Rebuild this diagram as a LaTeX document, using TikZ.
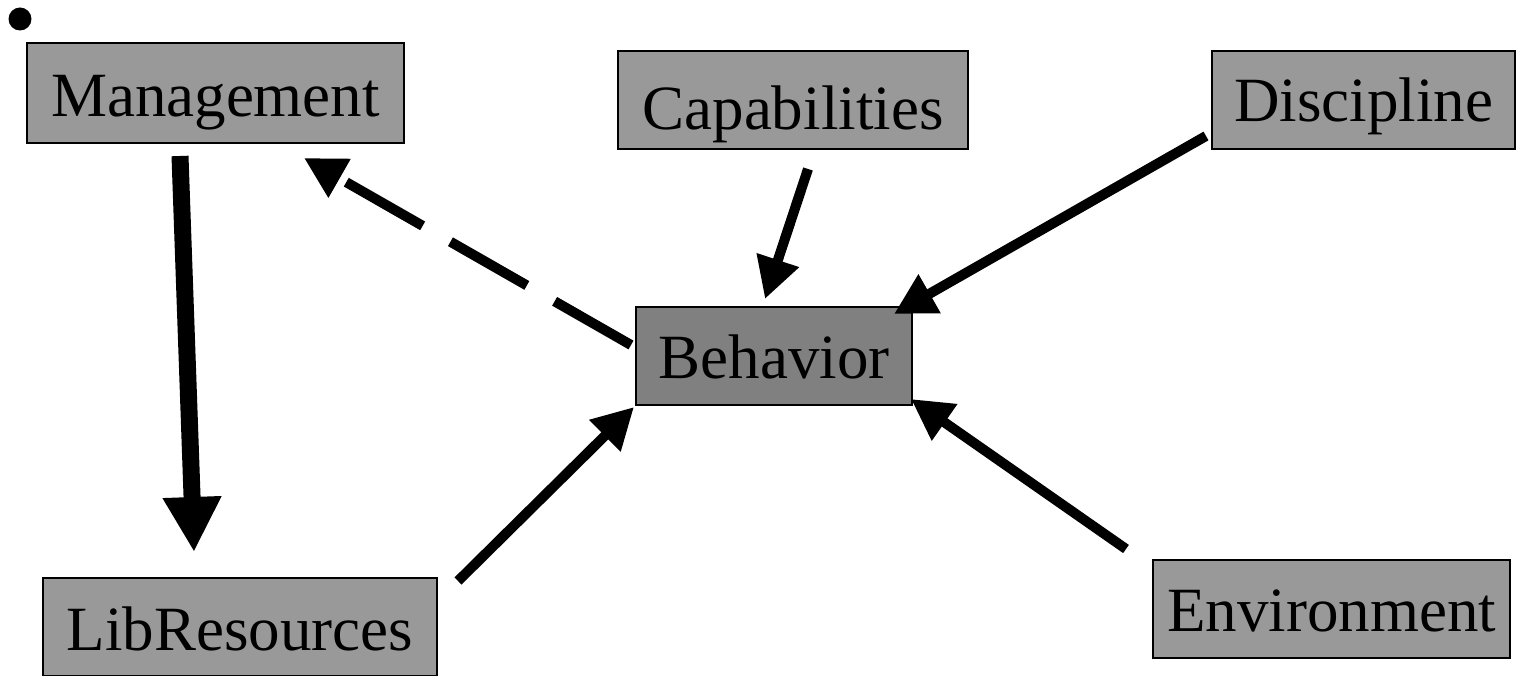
\documentclass[tikz,border=0pt]{standalone}
\usepackage{fontspec}
\setmainfont{Liberation Serif}
\usetikzlibrary{arrows.meta,calc}
\definecolor{boxgray}{HTML}{999999}
\definecolor{behgray}{HTML}{808080}
\tikzset{
  box/.style={draw=black, line width=2pt, fill=boxgray, rectangle, inner sep=0pt,
    font=\fontsize{63}{70}\selectfont, text height=46pt, text depth=0pt, anchor=center},
  conn/.style={line width=10pt, line cap=butt, -{Triangle[length=41pt,width=42pt]}},
  bigconn/.style={line width=17pt, line cap=butt, -{Triangle[length=55pt,width=55pt]}},
}
\begin{document}
\begin{tikzpicture}[x=1pt,y=-1pt]
\useasboundingbox (0,0) rectangle (1519,676);
\node[circle, fill=black, inner sep=0pt, minimum size=23pt] (bullet) at (20,19) {};
\node[box, minimum width=377pt, minimum height=100pt, text height=48pt] (mgmt) at (215.5,93) {Management};
\node[box, minimum width=350pt, minimum height=98pt, text height=60pt] (cap) at (793,100) {Capabilities};
\node[box, minimum width=303pt, minimum height=98pt, text height=44pt] (disc) at (1363.5,100) {Discipline};
\node[box, fill=behgray, minimum width=276pt, minimum height=98pt] (beh) at (774,356) {Behavior};
\node[box, minimum width=394pt, minimum height=98pt] (lib) at (240,627) {LibResources};
\node[box, minimum width=357pt, minimum height=98pt, text height=44pt] (env) at (1331.5,609) {Environment};

\draw[bigconn] ($(mgmt.south)+(-35.5,12)$) -- ($(lib.north)+(-46,-25)$);
\draw[conn, dash pattern=on 88pt off 32pt on 88pt off 32pt on 88pt off 40pt]
  ($(beh.west)+(-4,-11)$) -- ($(mgmt.south east)+(-101,14)$);
\draw[conn] ($(cap.south)+(15,19)$) -- ($(beh.north)+(-9,-7)$);
\draw[conn] ($(disc.south west)+(-5,-14)$) -- ($(beh.north east)+(-19,8)$);
\draw[conn] ($(env.north west)+(-26,-10)$) -- ($(beh.south east)+(-2,-7)$);
\draw[conn] ($(lib.north east)+(20,4)$) -- ($(beh.south west)+(-1,1)$);
\end{tikzpicture}
\end{document}
